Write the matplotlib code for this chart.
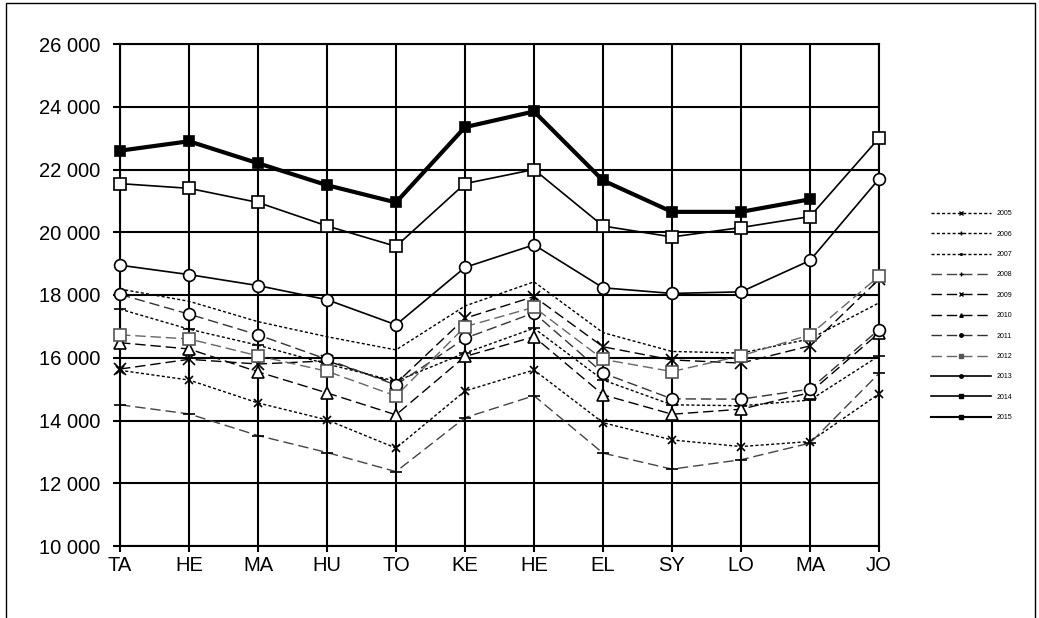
import numpy as np
import matplotlib
matplotlib.use("Agg")
import matplotlib.pyplot as plt
from matplotlib.lines import Line2D
from matplotlib.patches import Rectangle
from matplotlib.ticker import FuncFormatter

plt.rcParams['font.family'] = ['Liberation Sans', 'DejaVu Sans']

months = ["TA", "HE", "MA", "HU", "TO", "KE", "HE", "EL", "SY", "LO", "MA", "JO"]
years = ["2005", "2006", "2007", "2008", "2009", "2010", "2011", "2012", "2013", "2014", "2015"]

v2005 = [15600, 15290, 14560, 14020, 13120, 14940, 15610, 13930, 13380, 13170, 13330, 14850]
v2006 = [17550, 16910, 16400, 15800, 15250, 16150, 16940, 15290, 14500, 14470, 14650, 16060]
v2007 = [18190, 17800, 17150, 16670, 16250, 17650, 18420, 16800, 16200, 16150, 16600, 17750]
v2008 = [14500, 14210, 13520, 12980, 12370, 14090, 14790, 12960, 12450, 12750, 13280, 15500]
v2009 = [15640, 15950, 15800, 15900, 15180, 17260, 17950, 16350, 15930, 15830, 16380, 18500]
v2010 = [16480, 16280, 15550, 14880, 14180, 16040, 16670, 14820, 14200, 14360, 14890, 16790]
v2011 = [18020, 17390, 16730, 15950, 15130, 16620, 17430, 15510, 14690, 14680, 15000, 16900]
v2012 = [16730, 16600, 16060, 15570, 14780, 16990, 17610, 15950, 15560, 16060, 16730, 18600]
v2013 = [18950, 18650, 18300, 17850, 17050, 18880, 19600, 18230, 18050, 18100, 19100, 21700]
v2014 = [21550, 21400, 20950, 20200, 19550, 21550, 22000, 20200, 19850, 20150, 20500, 23000]
v2015 = [22600, 22900, 22200, 21500, 20950, 23350, 23850, 21650, 20650, 20650, 21050, np.nan]

series = [v2005, v2006, v2007, v2008, v2009, v2010, v2011, v2012, v2013, v2014, v2015]

short = (0, (2.2, 1.6))
long_ = (0, (7.5, 3.5))
styles = [
    # color, linestyle, lw, marker, size, facecolor, edgecolor
    ("black", short, 1.0, "x", 6, "none", "black"),
    ("black", short, 1.0, "+", 8, "none", "black"),
    ("black", short, 1.0, "", 0, "none", "black"),
    ("#444444", long_, 1.0, "+", 8, "none", "black"),
    ("black", long_, 1.0, "x", 9, "none", "black"),
    ("black", long_, 1.0, "^", 8, "white", "black"),
    ("#333333", long_, 1.0, "o", 8.5, "white", "black"),
    ("#666666", long_, 1.0, "s", 8, "white", "#555555"),
    ("black", "-", 1.2, "o", 8.5, "white", "black"),
    ("black", "-", 1.2, "s", 8, "white", "black"),
    ("black", "-", 3.0, "s", 7.5, "black", "black"),
]

fig = plt.figure(figsize=(10.39, 6.18), dpi=100)
ax = fig.add_axes([120 / 1039, 1 - 546 / 618, (879 - 120) / 1039, (546 - 44) / 618])

x = np.arange(len(months))
for vals, (c, ls, lw, m, ms, fc, ec) in zip(series, styles):
    ax.plot(x, vals, color=c, linestyle=ls, linewidth=lw, marker=m if m else None,
            markersize=ms, markerfacecolor=fc, markeredgecolor=ec, markeredgewidth=1.2,
            zorder=3, clip_on=False)

ax.set_xlim(0, len(months) - 1)
ax.set_ylim(10000, 26000)
ax.set_yticks(np.arange(10000, 26001, 2000))
ax.set_xticks(x)
ax.set_xticklabels(months)
ax.yaxis.set_major_formatter(FuncFormatter(lambda v, p: "{:,.0f}".format(v).replace(",", " ")))
ax.grid(True, color="black", linewidth=1.5)
for s in ax.spines.values():
    s.set_linewidth(1.5)
ax.tick_params(axis="y", length=5, width=1.5, pad=9, labelsize=14.5)
ax.tick_params(axis="x", length=4, width=1.5, pad=3.5, labelsize=14.5)

handles = []
for (c, ls, lw, m, ms, fc, ec) in styles:
    handles.append(Line2D([0], [0], color=c, linestyle=ls, linewidth=min(lw, 1.5),
                          marker=m if m else ".", markersize=2.5,
                          markerfacecolor=ec, markeredgecolor=ec))
fig.legend(handles, years, loc="upper left", bbox_to_anchor=(925 / 1039, 1 - 204 / 618),
           frameon=False, fontsize=5, handlelength=8.6, labelspacing=1.93, handletextpad=0.8)

fig.add_artist(Rectangle((6 / 1039, -0.05), (1035 - 6) / 1039, 1.05 - 3 / 618,
                         transform=fig.transFigure, fill=False, edgecolor="black", linewidth=1))

fig.savefig("out.png", dpi=100)
